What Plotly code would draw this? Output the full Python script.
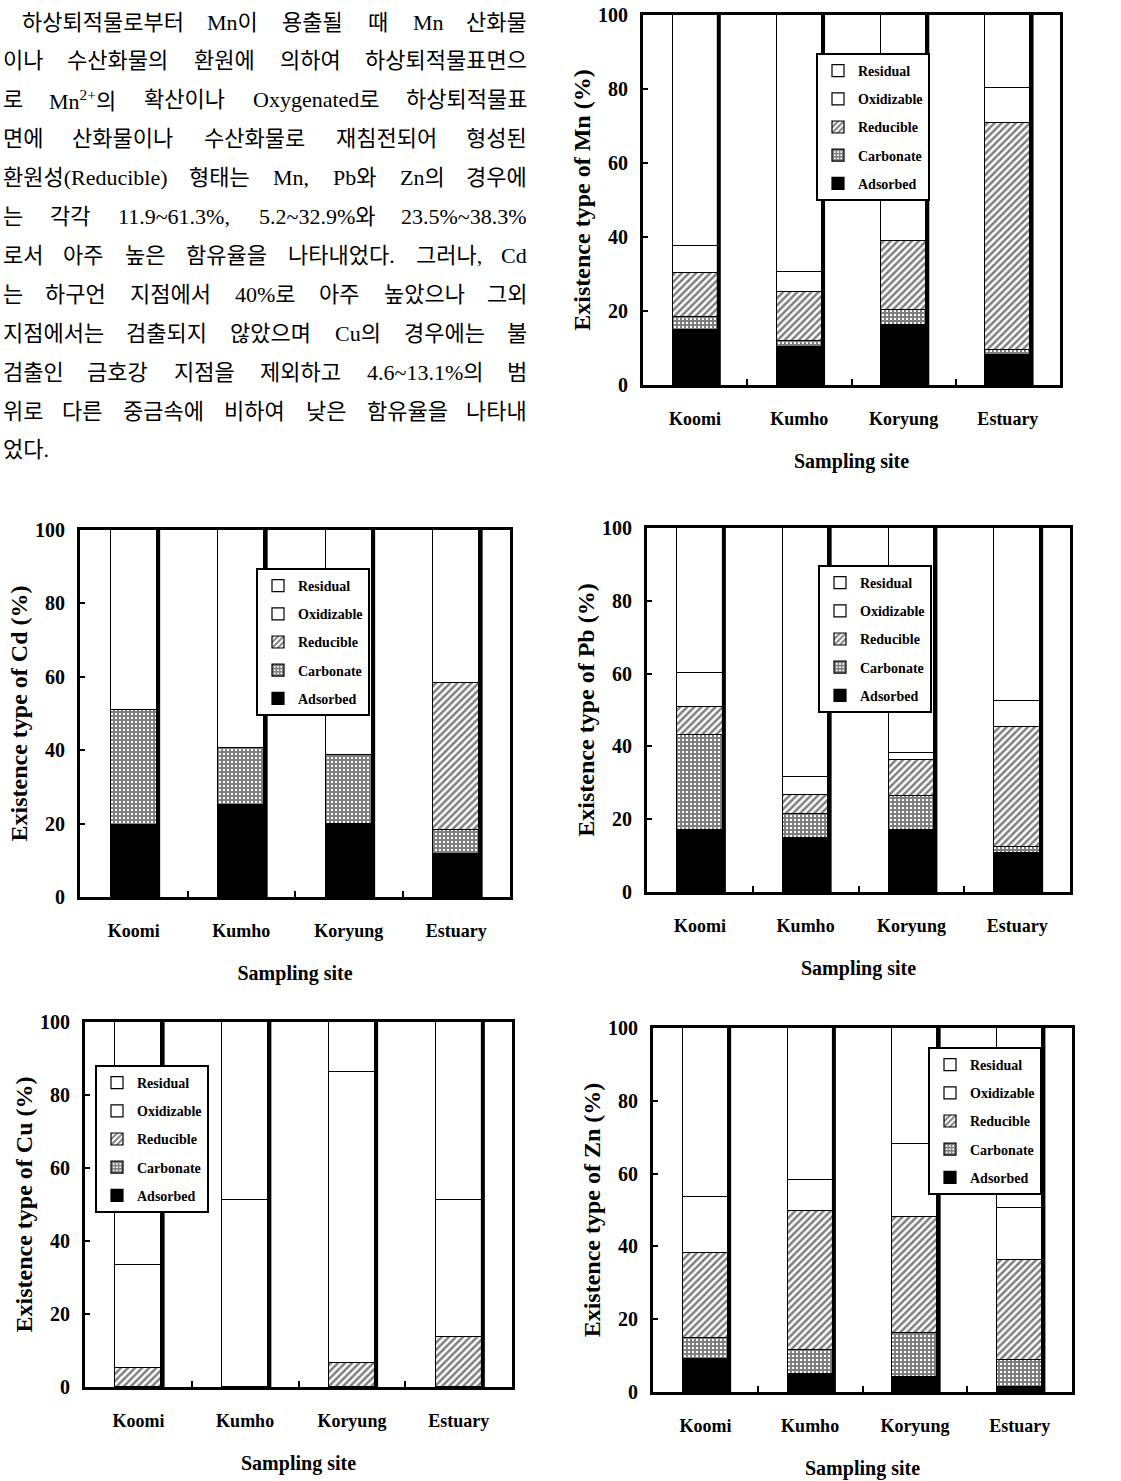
import plotly.graph_objects as go

# ---------------- data ----------------
sites = ["Koomi", "Kumho", "Koryung", "Estuary"]
fractions = ["Adsorbed", "Carbonate", "Reducible", "Oxidizable", "Residual"]
y_ticks = [0, 20, 40, 60, 80, 100]

mn_adsorbed = [15.0, 10.4, 16.2, 8.1]
mn_carbonate = [3.5, 1.4, 4.1, 1.4]
mn_reducible = [11.9, 13.4, 18.7, 61.3]
mn_oxidizable = [7.2, 5.3, 30.0, 9.6]
mn_residual = [62.4, 69.5, 31.0, 19.6]

cd_adsorbed = [19.5, 25.0, 20.0, 11.8]
cd_carbonate = [31.4, 15.5, 18.6, 6.4]
cd_reducible = [0.0, 0.0, 0.0, 40.2]
cd_oxidizable = [0.0, 0.0, 0.0, 0.0]
cd_residual = [49.1, 59.5, 61.4, 41.6]

pb_adsorbed = [17.0, 14.7, 17.0, 10.6]
pb_carbonate = [26.1, 6.7, 9.3, 1.8]
pb_reducible = [7.8, 5.2, 10.1, 32.9]
pb_oxidizable = [9.2, 4.9, 1.9, 7.2]
pb_residual = [39.9, 68.5, 61.7, 47.5]

cu_adsorbed = [0.0, 0.0, 0.0, 0.0]
cu_carbonate = [0.0, 0.0, 0.0, 0.0]
cu_reducible = [5.3, 0.0, 6.6, 13.6]
cu_oxidizable = [28.0, 51.1, 79.7, 37.7]
cu_residual = [66.7, 48.9, 13.7, 48.7]

zn_adsorbed = [9.2, 5.0, 4.1, 1.4]
zn_carbonate = [5.5, 6.5, 12.0, 7.3]
zn_reducible = [23.5, 38.3, 31.9, 27.5]
zn_oxidizable = [15.3, 8.5, 20.2, 14.3]
zn_residual = [46.5, 41.7, 31.8, 49.5]

paragraph = [
    "하상퇴적물로부터 Mn이 용출될 때 Mn 산화물",
    "이나 수산화물의 환원에 의하여 하상퇴적물표면으",
    "로 Mn<sup>2+</sup>의 확산이나 Oxygenated로 하상퇴적물표",
    "면에 산화물이나 수산화물로 재침전되어 형성된",
    "환원성(Reducible) 형태는 Mn, Pb와 Zn의 경우에",
    "는 각각 11.9~61.3%, 5.2~32.9%와 23.5%~38.3%",
    "로서 아주 높은 함유율을 나타내었다. 그러나, Cd",
    "는 하구언 지점에서 40%로 아주 높았으나 그외",
    "지점에서는 검출되지 않았으며 Cu의 경우에는 불",
    "검출인 금호강 지점을 제외하고 4.6~13.1%의 범",
    "위로 다른 중금속에 비하여 낮은 함유율을 나타내",
    "었다.",
]

charts = [
    ("Mn", [mn_adsorbed, mn_carbonate, mn_reducible, mn_oxidizable, mn_residual]),
    ("Cd", [cd_adsorbed, cd_carbonate, cd_reducible, cd_oxidizable, cd_residual]),
    ("Pb", [pb_adsorbed, pb_carbonate, pb_reducible, pb_oxidizable, pb_residual]),
    ("Cu", [cu_adsorbed, cu_carbonate, cu_reducible, cu_oxidizable, cu_residual]),
    ("Zn", [zn_adsorbed, zn_carbonate, zn_reducible, zn_oxidizable, zn_residual]),
]

# ---------------- layout geometry (page pixels) ----------------
W, H = 1121, 1481


def px(xp):
    return xp / W


def py(yp):
    return 1 - yp / H


# left, right, y(100), y(0), legend left, legend top
geom = {
    "Mn": (643, 1060, 15, 385, 816, 53),
    "Cd": (80, 510, 530, 897, 256, 568),
    "Pb": (647, 1070, 528, 892, 818, 565),
    "Cu": (85, 512, 1022, 1387, 95, 1065),
    "Zn": (653, 1072, 1028, 1392, 928, 1047),
}

SERIF = "'Liberation Serif', 'Times New Roman', serif"
TEXTFONT = "'Liberation Serif', 'Noto Sans CJK KR', serif"
BW = 0.43

line_k = dict(color="black", width=1.2)
styles = {
    "Adsorbed": dict(color="black", line=line_k),
    "Carbonate": dict(color="white", line=line_k,
                      pattern=dict(shape="+", fgcolor="black", bgcolor="white",
                                   size=4, solidity=0.75)),
    "Reducible": dict(color="white", line=line_k,
                      pattern=dict(shape="/", fgcolor="black", bgcolor="white",
                                   size=5, solidity=0.5)),
    "Oxidizable": dict(color="white", line=line_k),
    "Residual": dict(color="white", line=line_k),
}
legend_rank = {"Residual": 1, "Oxidizable": 2, "Reducible": 3,
               "Carbonate": 4, "Adsorbed": 5}

fig = go.Figure()
layout = {}
xpos = list(range(len(sites)))

for k, (metal, vals) in enumerate(charts):
    sfx = "" if k == 0 else str(k + 1)
    xa, ya = "x" + sfx, "y" + sfx
    lg = "legend" + sfx
    l, r, ytop, ybot, lgx, lgy = geom[metal]
    for comp, v in zip(fractions, vals):
        fig.add_trace(go.Bar(
            x=xpos, y=v, width=BW, name=comp, xaxis=xa, yaxis=ya,
            legend=lg, legendgroup=metal + comp, legendrank=legend_rank[comp],
            marker=styles[comp], hoverinfo="y+name"))
    totals = [sum(c) for c in zip(*vals)]
    ex, ey = [], []
    for i, t in enumerate(totals):
        ex += [i + BW / 2 + 0.012, i + BW / 2 + 0.012, None]
        ey += [0, t, None]
    fig.add_trace(go.Scatter(x=ex, y=ey, mode="lines", xaxis=xa, yaxis=ya,
                             line=dict(color="black", width=4),
                             showlegend=False, hoverinfo="skip"))

    layout["xaxis" + sfx] = dict(
        domain=[px(l), px(r)], anchor=ya, range=[-0.5, len(sites) - 0.5],
        tickmode="array", tickvals=xpos, ticktext=sites, ticks="",
        ticklabelstandoff=15, automargin=False, ticklabeloverflow="allow",
        tickfont=dict(family=SERIF, size=18, color="black", weight="bold"),
        showline=True, mirror=True, linecolor="black", linewidth=3,
        showgrid=False, zeroline=False, fixedrange=True,
        minor=dict(tickmode="array", tickvals=[i + 0.5 for i in xpos[:-1]],
                   ticks="inside", ticklen=6, tickwidth=2, tickcolor="black",
                   showgrid=False),
        title=dict(text="Sampling site", standoff=27,
                   font=dict(family=SERIF, size=20, color="black", weight="bold")),
    )
    layout["yaxis" + sfx] = dict(
        domain=[py(ybot), py(ytop)], anchor=xa, range=[0, 100],
        tickmode="array", tickvals=y_ticks, ticks="inside", ticklen=5,
        tickwidth=2, tickcolor="black", ticklabelstandoff=8, automargin=False,
        ticklabeloverflow="allow",
        tickfont=dict(family=SERIF, size=20, color="black", weight="bold"),
        showline=True, mirror=True, linecolor="black", linewidth=3,
        showgrid=False, zeroline=False, fixedrange=True,
        title=dict(text=f"Existence type of {metal} (%)", standoff=1,
                   font=dict(family=SERIF, size=24, color="black", weight="bold")),
    )
    layout[lg] = dict(
        x=px(lgx), y=py(lgy), xanchor="left", yanchor="top",
        bgcolor="white", bordercolor="black", borderwidth=2,
        font=dict(family=SERIF, size=14, color="black", weight="bold"),
        traceorder="grouped", tracegroupgap=7, itemclick=False,
        itemdoubleclick=False,
    )

# ---------------- justified paragraph ----------------
TW = {'a': .444, 'b': .5, 'c': .444, 'd': .5, 'e': .444, 'f': .333, 'g': .5,
      'h': .5, 'i': .278, 'j': .278, 'k': .5, 'l': .278, 'm': .778, 'n': .5,
      'o': .5, 'p': .5, 'q': .5, 'r': .333, 's': .389, 't': .278, 'u': .5,
      'v': .5, 'w': .722, 'x': .5, 'y': .5, 'z': .444, 'C': .667, 'M': .889,
      'O': .722, 'P': .556, 'R': .667, 'Z': .611, 'D': .722, '.': .25,
      ',': .25, '%': .833, '~': .541, '(': .333, ')': .333, '+': .564}
FS = 22
HANGUL_EM = 0.92


def word_width(w):
    total = 0.0
    scale = 1.0
    i = 0
    while i < len(w):
        if w.startswith("<sup>", i):
            scale = 0.7
            i += 5
            continue
        if w.startswith("</sup>", i):
            scale = 1.0
            i += 6
            continue
        ch = w[i]
        if "\uac00" <= ch <= "\ud7a3":
            total += HANGUL_EM * scale
        elif ch.isdigit():
            total += 0.5 * scale
        else:
            total += TW.get(ch, 0.5) * scale
        i += 1
    return total * FS


annotations = []
X_END = 529
for n, text in enumerate(paragraph):
    y = 22 + 38.9 * n
    x0 = 20 if n == 0 else 1
    words = text.split(" ")
    if n == len(paragraph) - 1 or len(words) == 1:
        annotations.append(dict(x=px(x0), y=py(y), xref="paper",
                                yref="paper", text=text, showarrow=False,
                                xanchor="left", yanchor="middle",
                                font=dict(family=TEXTFONT, size=FS, color="black")))
        continue
    widths = [word_width(w) for w in words]
    gap = (X_END - x0 - sum(widths)) / (len(words) - 1)
    cur = x0
    for j, (w, wd) in enumerate(zip(words, widths)):
        if j == 0:
            xx, anc = x0, "left"
        elif j == len(words) - 1:
            xx, anc = X_END, "right"
        else:
            xx, anc = cur + wd / 2, "center"
        annotations.append(dict(x=px(xx), y=py(y), xref="paper",
                                yref="paper", text=w, showarrow=False,
                                xanchor=anc, yanchor="middle",
                                font=dict(family=TEXTFONT, size=FS, color="black")))
        cur += wd + gap

fig.update_layout(
    width=W, height=H, margin=dict(l=0, r=0, t=0, b=0, autoexpand=False),
    paper_bgcolor="white", plot_bgcolor="white", barmode="stack",
    bargap=0, annotations=annotations, **layout,
)

fig.write_html("out.html", config={"displayModeBar": False},
               post_script="document.body.style.margin='0px';")
